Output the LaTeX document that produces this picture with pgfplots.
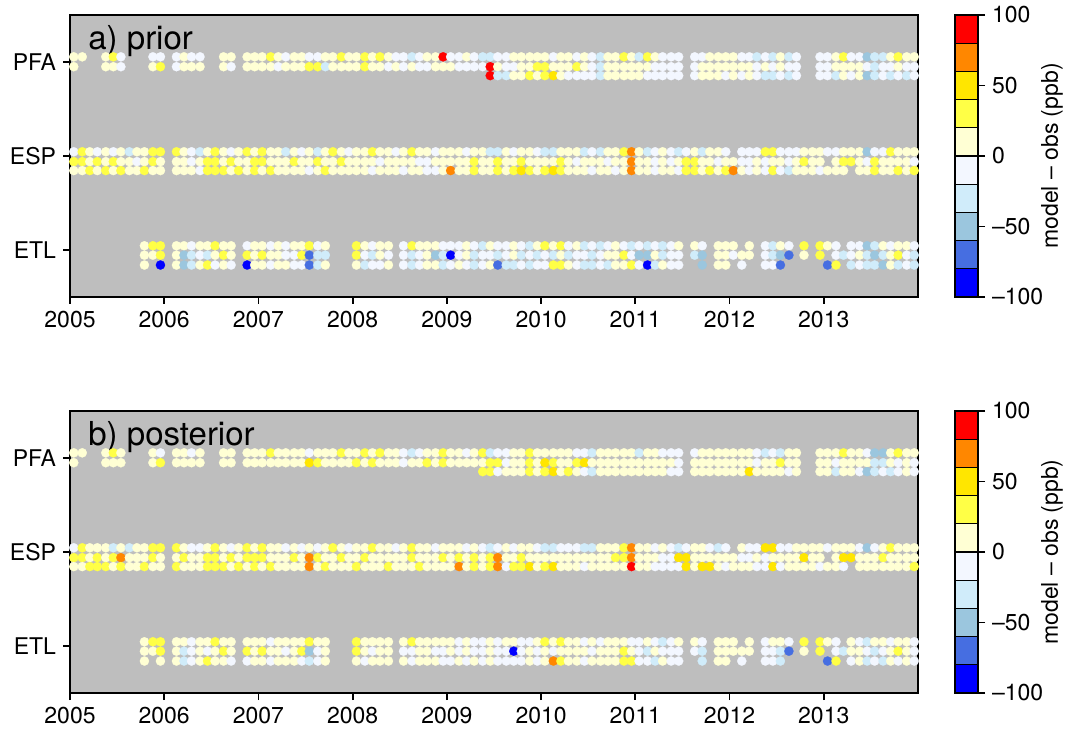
\documentclass[border=0pt]{standalone}
\usepackage{fontspec}
\setmainfont{TeX Gyre Heros}
\usepackage{pgfplots}
\usepackage{pgfplotstable}
\pgfplotsset{compat=1.18}

\definecolor{bgray}{RGB}{190,190,190}
\definecolor{cb0}{RGB}{0,0,255}
\definecolor{cb1}{RGB}{70,110,225}
\definecolor{cb2}{RGB}{155,198,222}
\definecolor{cb3}{RGB}{208,236,250}
\definecolor{cb4}{RGB}{243,247,255}
\definecolor{cb5}{RGB}{255,255,212}
\definecolor{cb6}{RGB}{255,255,70}
\definecolor{cb7}{RGB}{255,230,0}
\definecolor{cb8}{RGB}{255,135,0}
\definecolor{cb9}{RGB}{255,0,0}

% model - obs (ppb), monthly; rows: PFA 1-3, ESP 1-3, ETL 1-3
\pgfplotstableread{
x P1 P2 P3 E1 E2 E3 T1 T2 T3
2005.04 10 10 nan -10 30 10 nan nan nan
2005.13 10 nan nan 30 30 10 nan nan nan
2005.21 nan nan nan 10 10 30 nan nan nan
2005.29 nan nan nan -10 30 10 nan nan nan
2005.38 10 10 nan 10 10 30 nan nan nan
2005.46 30 10 nan -10 30 10 nan nan nan
2005.54 -10 -10 nan 10 10 30 nan nan nan
2005.63 nan nan nan -30 10 10 nan nan nan
2005.71 nan nan nan 10 -10 10 nan nan nan
2005.79 nan nan nan 10 10 30 10 10 10
2005.88 -10 10 nan 30 30 10 30 10 nan
2005.96 -10 30 nan 30 10 10 30 30 -90
2006.13 -10 -10 nan 30 10 10 10 10 10
2006.21 10 10 nan 10 10 10 10 -50 -50
2006.29 -10 10 nan -10 -10 10 -10 -30 -30
2006.38 -10 10 nan -30 10 -10 10 -10 10
2006.46 nan nan nan 10 30 30 10 -30 30
2006.54 nan nan nan 30 30 30 30 10 -10
2006.63 10 10 nan 10 10 30 10 30 10
2006.71 10 -10 nan -10 30 10 10 10 -10
2006.79 nan nan nan 10 10 30 nan nan nan
2006.88 10 10 nan 30 10 10 -10 30 -90
2006.96 10 10 nan 10 30 30 10 10 10
2007.04 10 10 nan 30 30 10 10 30 10
2007.13 30 10 nan 10 10 30 -10 10 -10
2007.21 10 -10 nan 10 10 10 10 10 10
2007.29 -10 10 nan -30 10 10 -10 -10 10
2007.38 10 10 nan 10 30 10 10 -10 -10
2007.46 10 10 nan -10 10 10 10 30 -10
2007.54 -10 30 nan 10 10 -10 30 -70 -70
2007.63 -10 30 nan -30 30 10 -10 -30 -30
2007.71 10 -30 nan 10 10 30 10 -30 10
2007.79 10 10 nan 30 10 10 nan nan nan
2007.88 30 10 nan 10 30 10 nan nan nan
2007.96 10 10 nan -10 10 10 nan nan nan
2008.04 10 10 nan 10 10 10 30 30 10
2008.13 30 30 nan 10 10 10 10 -10 -30
2008.21 10 10 nan 30 10 -10 -10 -30 -10
2008.29 30 10 nan 10 -10 10 10 10 -10
2008.38 10 -10 nan 10 10 10 10 -10 10
2008.46 -10 10 nan -10 10 10 nan nan nan
2008.54 -10 -10 nan 10 10 -10 -10 -10 -10
2008.63 -30 10 nan 30 10 10 30 -30 -30
2008.71 -10 -10 nan 10 -10 10 10 -10 -10
2008.79 10 -10 nan 10 -10 -10 10 10 10
2008.88 10 10 nan -10 10 -10 10 -50 10
2008.96 90 10 nan 10 10 10 -10 -30 -30
2009.04 -10 10 nan 10 10 70 -10 -90 -10
2009.13 -10 -10 nan 10 10 10 -10 -10 10
2009.21 10 -10 nan -10 10 10 10 10 -10
2009.29 -10 -10 nan 10 30 30 -10 -30 -30
2009.38 -30 -10 nan 10 10 10 -30 -10 -10
2009.46 -30 90 90 -30 10 10 10 -10 10
2009.54 -10 10 -30 -30 30 30 -10 -30 -70
2009.63 -10 -10 -30 10 10 10 -10 -10 -30
2009.71 10 -10 10 -10 10 30 10 10 -30
2009.79 10 10 10 10 30 50 -10 -30 -10
2009.88 10 10 30 10 10 30 -30 -10 -30
2009.96 10 30 10 -10 10 10 10 -30 -10
2010.04 10 30 30 -30 10 30 30 -10 -10
2010.13 -10 10 50 -30 10 50 10 -30 30
2010.21 10 10 10 10 30 30 30 10 30
2010.29 10 10 -10 10 10 10 -10 -30 10
2010.38 -10 30 -10 10 -10 10 10 -10 -10
2010.46 10 10 -10 -30 10 10 -30 -10 -30
2010.54 -10 -10 -10 -10 10 -10 -10 -30 -30
2010.63 -30 -30 -30 -30 10 10 -30 -10 -10
2010.71 10 10 10 10 -10 10 -10 10 -30
2010.79 10 10 10 10 10 -10 10 10 10
2010.88 30 10 10 30 10 10 -10 30 10
2010.96 10 10 10 70 70 70 -30 -10 30
2011.04 -30 10 10 10 10 10 -10 -50 -10
2011.13 30 10 -10 -30 10 10 -30 -50 -90
2011.21 10 -10 -10 -10 -10 -10 -10 10 -30
2011.29 -10 -10 -10 10 10 10 -30 -30 10
2011.38 -10 -10 -10 -10 -10 10 -10 -10 -10
2011.46 -10 -10 -10 -30 10 -10 10 -10 -10
2011.54 nan nan nan -10 30 30 nan nan nan
2011.63 -10 -10 -10 10 30 30 10 -30 nan
2011.71 -10 10 10 -30 10 10 -10 -50 -50
2011.79 10 10 10 10 10 30 nan nan nan
2011.88 10 10 10 10 -10 10 10 10 10
2011.96 10 10 -10 -10 10 30 10 10 10
2012.04 10 10 10 nan 10 70 10 -10 nan
2012.13 -10 10 -10 -10 -10 10 nan 10 -10
2012.21 -10 10 10 -10 -10 -10 10 10 nan
2012.29 -30 -10 -10 -10 10 10 nan nan nan
2012.38 -10 10 -30 30 -10 -10 -10 -10 -10
2012.46 -30 -10 -30 30 10 30 -30 -30 -10
2012.54 10 10 -10 -10 10 -10 10 -50 -70
2012.63 -30 -10 -30 -10 -10 -30 -10 -70 nan
2012.71 -10 -10 -10 -10 10 10 nan nan nan
2012.79 nan nan nan 10 30 10 30 10 nan
2012.88 nan nan nan 10 10 10 nan nan nan
2012.96 -10 -10 -10 10 10 -10 30 30 nan
2013.04 -10 -10 -10 -10 nan 10 10 nan -70
2013.13 10 10 -30 -10 10 10 -10 -10 30
2013.21 30 10 10 10 30 10 nan -30 nan
2013.29 -10 10 -10 10 30 nan -10 -10 -30
2013.38 -10 10 10 10 10 10 -10 10 -10
2013.46 -50 -10 -50 -50 -10 10 -50 -30 -30
2013.54 -30 -30 -30 -10 30 30 -30 -50 -30
2013.63 -30 -10 -10 -10 10 10 10 -30 -50
2013.71 10 -10 -30 30 10 10 -10 10 10
2013.79 30 10 -10 10 10 30 10 30 -30
2013.88 10 -10 -30 10 10 10 10 -10 -10
2013.96 10 -10 -10 10 -10 30 -10 -30 -30
}\prior

\pgfplotstableread{
x P1 P2 P3 E1 E2 E3 T1 T2 T3
2005.04 10 10 nan -10 30 10 nan nan nan
2005.13 10 nan nan 30 30 10 nan nan nan
2005.21 nan nan nan 10 10 30 nan nan nan
2005.29 nan nan nan 10 30 30 nan nan nan
2005.38 10 10 nan 10 10 30 nan nan nan
2005.46 30 10 nan -30 30 10 nan nan nan
2005.54 10 10 nan 10 70 30 nan nan nan
2005.63 nan nan nan -30 10 10 nan nan nan
2005.71 nan nan nan 10 10 10 nan nan nan
2005.79 nan nan nan 10 10 30 10 10 10
2005.88 10 10 nan 30 30 10 30 10 nan
2005.96 -10 30 nan 30 10 10 30 30 10
2006.13 10 10 nan 30 10 30 10 10 10
2006.21 10 10 nan 10 30 10 10 -30 -30
2006.29 -10 10 nan -10 10 10 -10 -10 -10
2006.38 10 10 nan -10 10 10 10 10 10
2006.46 nan nan nan 10 30 30 10 -10 30
2006.54 nan nan nan 30 30 30 30 10 10
2006.63 10 10 nan 10 10 30 10 30 10
2006.71 10 10 nan -10 30 10 10 10 -10
2006.79 nan nan nan 10 10 30 nan nan nan
2006.88 10 10 nan 30 30 10 10 30 -10
2006.96 10 10 nan 10 30 30 10 10 10
2007.04 10 10 nan 30 30 10 10 30 10
2007.13 30 10 nan 10 10 30 -10 10 -10
2007.21 10 10 nan 10 10 10 10 10 10
2007.29 10 10 nan -10 10 10 10 -10 10
2007.38 10 10 nan 10 30 10 10 10 10
2007.46 10 10 nan -10 10 10 10 30 -10
2007.54 -10 50 nan 10 70 70 30 -50 -30
2007.63 10 30 nan -10 30 10 10 -10 -10
2007.71 10 10 nan 10 10 30 10 10 10
2007.79 10 10 nan 30 10 10 nan nan nan
2007.88 30 10 nan 10 30 10 nan nan nan
2007.96 10 10 nan -10 10 10 nan nan nan
2008.04 10 30 nan 10 10 30 30 30 10
2008.13 30 10 nan 10 30 10 10 10 -10
2008.21 10 30 nan 30 10 10 10 -10 10
2008.29 30 10 nan 10 10 10 10 10 10
2008.38 10 10 nan 10 10 30 10 10 10
2008.46 10 10 nan -10 10 10 nan nan nan
2008.54 -10 -10 nan 10 10 10 10 -10 10
2008.63 -30 10 nan 30 30 10 30 -10 -10
2008.71 -10 10 nan 10 10 30 10 10 10
2008.79 10 30 nan 10 10 10 10 10 10
2008.88 10 10 nan -10 10 10 10 -10 10
2008.96 30 30 nan 10 30 10 10 -10 -10
2009.04 10 10 nan 10 10 10 10 10 -10
2009.13 10 10 nan 10 30 70 -10 -10 10
2009.21 -10 10 nan -10 10 10 10 10 -10
2009.29 10 10 nan 10 30 30 -10 -10 10
2009.38 30 10 30 -10 10 10 -10 -10 -10
2009.46 -30 30 30 -30 30 30 10 10 10
2009.54 -10 30 -10 -10 70 70 -10 -10 -10
2009.63 -10 -10 10 10 10 -10 10 -10 -10
2009.71 10 10 10 -10 10 30 10 -90 -10
2009.79 10 10 10 10 30 30 -10 -10 -10
2009.88 30 30 30 10 10 50 -10 10 10
2009.96 10 10 10 -10 10 10 10 -10 -10
2010.04 10 50 30 -30 10 30 30 10 10
2010.13 10 30 50 -30 10 50 10 -10 70
2010.21 10 10 10 -10 10 10 30 10 30
2010.29 10 10 30 -10 10 10 10 10 10
2010.38 -10 30 10 -10 10 10 10 10 10
2010.46 -10 50 -10 -30 10 -10 -10 10 -10
2010.54 -30 10 -30 -30 10 10 10 -10 10
2010.63 10 10 10 10 10 10 -10 10 10
2010.71 10 10 10 10 10 10 10 10 10
2010.79 10 10 10 10 30 10 10 10 10
2010.88 10 10 10 30 30 10 10 30 30
2010.96 10 10 10 70 70 90 -10 10 30
2011.04 -30 10 10 10 10 10 -10 -10 -10
2011.13 10 10 10 10 10 10 10 -30 -10
2011.21 10 10 10 -10 10 -10 -10 10 -30
2011.29 -10 10 10 10 -10 -10 -30 -10 10
2011.38 -10 10 -10 -10 -10 -10 -10 -10 -10
2011.46 -10 -10 -10 -30 50 -10 10 -10 -10
2011.54 nan nan nan -10 50 50 nan nan nan
2011.63 -10 10 10 10 10 10 10 -10 nan
2011.71 10 10 10 10 10 50 -10 -30 -30
2011.79 10 10 10 -10 10 50 nan nan nan
2011.88 10 10 10 -30 10 10 10 10 10
2011.96 10 10 10 -10 10 -10 10 10 10
2012.04 10 10 10 nan 10 10 10 10 nan
2012.13 10 10 10 10 -10 10 nan 10 -10
2012.21 10 10 50 -10 -10 10 10 10 nan
2012.29 -10 -10 10 -10 10 -10 nan nan nan
2012.38 -30 10 10 50 -10 -10 -10 -10 -10
2012.46 -10 10 10 50 10 50 10 -10 -10
2012.54 -30 30 10 -10 10 -10 10 -30 -30
2012.63 10 10 -10 -10 10 10 -10 -70 nan
2012.71 10 10 10 10 10 10 nan nan nan
2012.79 nan nan nan 10 50 10 30 10 nan
2012.88 nan nan nan 10 10 10 nan nan nan
2012.96 10 10 10 10 10 -10 30 30 nan
2013.04 10 10 10 -10 nan 10 10 nan -70
2013.13 10 -10 -30 10 10 10 -10 -10 30
2013.21 30 10 10 10 50 -10 nan -30 nan
2013.29 10 10 10 10 50 nan 10 10 -10
2013.38 10 10 -10 -10 10 10 -10 10 10
2013.46 -10 10 -50 -50 10 10 -30 -10 -30
2013.54 -50 -30 -30 -10 10 10 10 -30 -10
2013.63 -50 -30 -10 10 30 10 10 -10 -30
2013.71 10 10 -30 30 10 10 -10 10 10
2013.79 30 -10 -10 10 10 10 10 30 -10
2013.88 10 10 10 10 10 10 10 10 10
2013.96 10 -10 -10 10 10 30 -10 -10 -10
}\posterior

\pgfplotsset{
  panel/.style={
    width=424pt, height=141pt, scale only axis,
    xmin=2005, xmax=2014, ymin=0.5, ymax=3.5,
    axis background/.style={fill=bgray},
    xtick={2005,2006,...,2013},
    ytick={1,2,3}, yticklabels={ETL,ESP,PFA},
    tick align=outside, xtick pos=bottom, ytick pos=left,
    major tick length=3.5pt,
    /pgf/number format/1000 sep={},
    /pgf/number format/assume math mode=true,
    tick label style={font=\fontsize{11.5}{13}\selectfont},
    axis line style={line width=0.9pt},
    every tick/.style={black, line width=0.9pt},
    colormap={dm}{rgb255=(0,0,255) rgb255=(70,110,225) rgb255=(155,198,222)
      rgb255=(208,236,250) rgb255=(243,247,255) rgb255=(255,255,212)
      rgb255=(255,255,70) rgb255=(255,230,0) rgb255=(255,135,0)
      rgb255=(255,0,0)},
    colormap access=piecewise constant,
    point meta min=-100, point meta max=100,
  },
  % one row of dots: y is the row's level; a missing value (nan) drops the dot
  dots/.style={scatter, only marks, mark=*, mark size=2.3pt,
    point meta=explicit,
    scatter/use mapped color={draw=mapped color, fill=mapped color},
    mark options={line width=0.1pt},
    y filter/.code={%
      \pgfmathfloatparsenumber{\pgfmathresult}%
      \pgfmathfloatifflags{\pgfmathresult}{3}%
        {\def\pgfmathresult{nan}}{\def\pgfmathresult{#1}}}},
  cbar/.style={
    width=11.5pt, height=141pt, scale only axis,
    xmin=0, xmax=1, ymin=-100, ymax=100,
    xtick=\empty, ytick={-100,-50,0,50,100},
    yticklabels={--100,--50,0,50,100},
    yticklabel pos=right, ytick pos=right, tick align=outside,
    major tick length=3.5pt,
    tick label style={font=\fontsize{11.5}{13}\selectfont},
    ylabel={model -- obs (ppb)},
    every axis y label/.style={at={(axis description cs:4.22,0.5)},
      rotate=90, anchor=center, font=\fontsize{11.5}{13}\selectfont},
    axis line style={line width=0.7pt},
    every tick/.style={black, line width=0.7pt},
  },
}

\begin{document}
\begin{tikzpicture}
\useasboundingbox (0,0) rectangle (540pt,366.5pt);

% a) prior
\begin{axis}[panel, at={(35pt,218pt)}, anchor=south west]
\addplot[dots=3.055] table[x=x, y=P1, meta=P1] {\prior};
\addplot[dots=2.95] table[x=x, y=P2, meta=P2] {\prior};
\addplot[dots=2.855] table[x=x, y=P3, meta=P3] {\prior};
\addplot[dots=2.045] table[x=x, y=E1, meta=E1] {\prior};
\addplot[dots=1.94] table[x=x, y=E2, meta=E2] {\prior};
\addplot[dots=1.845] table[x=x, y=E3, meta=E3] {\prior};
\addplot[dots=1.045] table[x=x, y=T1, meta=T1] {\prior};
\addplot[dots=0.945] table[x=x, y=T2, meta=T2] {\prior};
\addplot[dots=0.84] table[x=x, y=T3, meta=T3] {\prior};
\node[anchor=north west, inner sep=0pt, xshift=9pt, yshift=-5pt,
  font=\fontsize{16.5}{18}\selectfont] at (rel axis cs:0,1) {a) prior};
\end{axis}

\begin{axis}[cbar, at={(477.5pt,218pt)}, anchor=south west]
\addplot[fill=cb0, draw=black, line width=0.6pt] coordinates {(0,-100) (1,-100) (1,-80) (0,-80)} -- cycle;
\addplot[fill=cb1, draw=black, line width=0.6pt] coordinates {(0,-80) (1,-80) (1,-60) (0,-60)} -- cycle;
\addplot[fill=cb2, draw=black, line width=0.6pt] coordinates {(0,-60) (1,-60) (1,-40) (0,-40)} -- cycle;
\addplot[fill=cb3, draw=black, line width=0.6pt] coordinates {(0,-40) (1,-40) (1,-20) (0,-20)} -- cycle;
\addplot[fill=cb4, draw=black, line width=0.6pt] coordinates {(0,-20) (1,-20) (1,0) (0,0)} -- cycle;
\addplot[fill=cb5, draw=black, line width=0.6pt] coordinates {(0,0) (1,0) (1,20) (0,20)} -- cycle;
\addplot[fill=cb6, draw=black, line width=0.6pt] coordinates {(0,20) (1,20) (1,40) (0,40)} -- cycle;
\addplot[fill=cb7, draw=black, line width=0.6pt] coordinates {(0,40) (1,40) (1,60) (0,60)} -- cycle;
\addplot[fill=cb8, draw=black, line width=0.6pt] coordinates {(0,60) (1,60) (1,80) (0,80)} -- cycle;
\addplot[fill=cb9, draw=black, line width=0.6pt] coordinates {(0,80) (1,80) (1,100) (0,100)} -- cycle;
\end{axis}

% b) posterior
\begin{axis}[panel, at={(35pt,20pt)}, anchor=south west]
\addplot[dots=3.055] table[x=x, y=P1, meta=P1] {\posterior};
\addplot[dots=2.95] table[x=x, y=P2, meta=P2] {\posterior};
\addplot[dots=2.855] table[x=x, y=P3, meta=P3] {\posterior};
\addplot[dots=2.045] table[x=x, y=E1, meta=E1] {\posterior};
\addplot[dots=1.94] table[x=x, y=E2, meta=E2] {\posterior};
\addplot[dots=1.845] table[x=x, y=E3, meta=E3] {\posterior};
\addplot[dots=1.045] table[x=x, y=T1, meta=T1] {\posterior};
\addplot[dots=0.945] table[x=x, y=T2, meta=T2] {\posterior};
\addplot[dots=0.84] table[x=x, y=T3, meta=T3] {\posterior};
\node[anchor=north west, inner sep=0pt, xshift=9pt, yshift=-5pt,
  font=\fontsize{16.5}{18}\selectfont] at (rel axis cs:0,1) {b) posterior};
\end{axis}

\begin{axis}[cbar, at={(477.5pt,20pt)}, anchor=south west]
\addplot[fill=cb0, draw=black, line width=0.6pt] coordinates {(0,-100) (1,-100) (1,-80) (0,-80)} -- cycle;
\addplot[fill=cb1, draw=black, line width=0.6pt] coordinates {(0,-80) (1,-80) (1,-60) (0,-60)} -- cycle;
\addplot[fill=cb2, draw=black, line width=0.6pt] coordinates {(0,-60) (1,-60) (1,-40) (0,-40)} -- cycle;
\addplot[fill=cb3, draw=black, line width=0.6pt] coordinates {(0,-40) (1,-40) (1,-20) (0,-20)} -- cycle;
\addplot[fill=cb4, draw=black, line width=0.6pt] coordinates {(0,-20) (1,-20) (1,0) (0,0)} -- cycle;
\addplot[fill=cb5, draw=black, line width=0.6pt] coordinates {(0,0) (1,0) (1,20) (0,20)} -- cycle;
\addplot[fill=cb6, draw=black, line width=0.6pt] coordinates {(0,20) (1,20) (1,40) (0,40)} -- cycle;
\addplot[fill=cb7, draw=black, line width=0.6pt] coordinates {(0,40) (1,40) (1,60) (0,60)} -- cycle;
\addplot[fill=cb8, draw=black, line width=0.6pt] coordinates {(0,60) (1,60) (1,80) (0,80)} -- cycle;
\addplot[fill=cb9, draw=black, line width=0.6pt] coordinates {(0,80) (1,80) (1,100) (0,100)} -- cycle;
\end{axis}
\end{tikzpicture}
\end{document}
